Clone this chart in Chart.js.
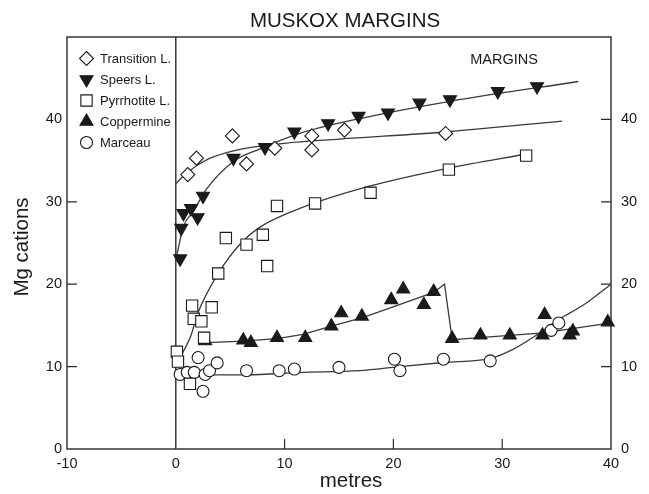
<!DOCTYPE html>
<html>
<head>
<meta charset="utf-8">
<title>MUSKOX MARGINS</title>
<script src="https://cdn.jsdelivr.net/npm/chart.js@4/dist/chart.umd.min.js"></script>
<style>
  html, body { margin: 0; padding: 0; background: #fff; }
  #wrap { width: 649px; height: 494px; }
</style>
</head>
<body>
<div id="wrap"><canvas id="c" width="649" height="494"></canvas></div>
<script>
// Observed Mg cation values against distance from the contact (metres)
const transitionL = [[1.1,33.3],[1.9,35.3],[5.2,38.0],[6.5,34.6],[9.1,36.5],[12.5,38.0],[12.5,36.3],[15.5,38.7],[24.8,38.3]];
const speersL = [[0.4,23.1],[0.5,26.8],[0.7,28.6],[1.4,29.2],[2.0,28.1],[2.5,30.7],[5.3,35.3],[8.2,36.6],[10.9,38.5],[14.0,39.5],[16.8,40.4],[19.5,40.8],[22.4,42.0],[25.2,42.4],[29.6,43.4],[33.2,44.0]];
const pyrrhotiteL = [[0.1,11.8],[0.2,10.6],[1.3,7.9],[1.5,17.4],[1.65,15.8],[2.35,15.5],[2.6,13.5],[3.3,17.2],[3.9,21.3],[4.6,25.6],[6.5,24.8],[8.0,26.0],[8.4,22.2],[9.3,29.5],[12.8,29.8],[17.9,31.1],[25.1,33.9],[32.2,35.6]];
const coppermine = [[2.7,13.1],[6.2,13.2],[6.9,12.9],[9.3,13.5],[11.9,13.5],[14.3,14.9],[15.2,16.5],[17.1,16.1],[19.8,18.1],[20.9,19.4],[22.8,17.5],[23.7,19.1],[25.4,13.4],[28.0,13.8],[30.7,13.8],[33.7,13.8],[33.9,16.3],[36.2,13.8],[36.5,14.3],[39.7,15.4]];
const marceau = [[0.4,9.05],[1.05,9.3],[1.7,9.3],[2.05,11.1],[2.5,7.0],[2.7,9.05],[3.1,9.5],[3.8,10.45],[6.5,9.5],[9.5,9.5],[10.9,9.7],[15.0,9.9],[20.1,10.9],[20.6,9.5],[24.6,10.9],[28.9,10.7],[34.5,14.4],[35.2,15.3]];

// Hand-fitted trend curves
const transitionCurve = [[0,32.2],[1,33.5],[3,35.2],[6,36.4],[10,37.1],[15,37.6],[25,38.5],[35.5,39.8]];
const speersCurve = [[0,22.9],[0.7,27.0],[1.6,28.8],[2.8,31.5],[5.3,34.9],[7.7,36.4],[11.4,38.3],[18,40.4],[25.2,42.2],[37,44.6]];
const pyrrhotiteCurve = [[0.2,10.6],[1.4,13.8],[2.0,16.4],[3.9,21.3],[6.0,25.0],[7.7,26.9],[11.4,29.2],[17.8,31.9],[25.1,34.1],[32.2,35.8]];
const coppermineCurve = [[2.8,12.9],[6.2,13.1],[9.3,13.4],[11.7,13.9],[14.3,14.9],[17.1,15.9],[20.3,17.4],[23.7,19.0],[24.7,20.0],[25.4,13.3],[25.8,13.3],[30.7,13.8],[33.8,14.1],[40,15.3]];
const marceauCurve = [[0,9.4],[2,9.0],[6.5,9.0],[11.4,9.3],[16.9,9.5],[20.6,10.0],[24.6,10.5],[28.9,11.0],[31,12.1],[32.9,13.6],[35.3,15.8],[37.5,17.5],[40,20.0]];

// Contact line at 0 m
const contactLine = [[0,0],[0,50]];

// Axis ticks
const xTickValues = [-10, 0, 10, 20, 30, 40];
const yTickValues = [0, 10, 20, 30, 40];
const xInnerTicks = [10, 20, 30];
const leftInnerTicks = [10, 20, 30];
const rightInnerTicks = [10, 20, 30, 40];

const INK = '#1a1a1a';
const LINE = '#3a3a3a';
const FONT = '"Liberation Sans", Arial, Helvetica, sans-serif';

const toXY = arr => arr.map(([x, y]) => ({ x, y }));

function pointSet(label, data, style, radius, filled, rotation) {
  return {
    type: 'scatter',
    label,
    data: toXY(data),
    pointStyle: style,
    pointRadius: radius,
    pointHoverRadius: radius,
    rotation: rotation || 0,
    pointBackgroundColor: filled ? INK : '#ffffff',
    pointBorderColor: INK,
    pointBorderWidth: 1.1,
    showLine: false,
    order: 1,
    clip: 10,
    isSeries: true
  };
}

function curveSet(data, tension) {
  return {
    type: 'line',
    data: toXY(data),
    borderColor: LINE,
    borderWidth: 1.3,
    pointRadius: 0,
    pointHoverRadius: 0,
    fill: false,
    cubicInterpolationMode: tension ? 'monotone' : 'default',
    tension: 0,
    order: 2,
    clip: 4
  };
}

const datasets = [
  pointSet('Transition L.', transitionL, 'rectRot', 7, false),
  pointSet('Speers L.', speersL, 'triangle', 7.5, true, 180),
  pointSet('Pyrrhotite L.', pyrrhotiteL, 'rect', 8, false),
  pointSet('Coppermine', coppermine, 'triangle', 7.5, true),
  pointSet('Marceau', marceau, 'circle', 6, false),
  curveSet(transitionCurve, true),
  curveSet(speersCurve, true),
  curveSet(pyrrhotiteCurve, true),
  curveSet(coppermineCurve, false),
  curveSet(marceauCurve, true),
  Object.assign(curveSet(contactLine, false), { borderColor: '#2a2a2a', borderWidth: 1.4 })
];

// Marker glyphs for the key
function drawMarker(ctx, style, x, y, r, filled, rotation) {
  ctx.save();
  ctx.beginPath();
  if (style === 'circle') {
    ctx.arc(x, y, r, 0, Math.PI * 2);
  } else if (style === 'rect') {
    const s = r * Math.SQRT1_2;
    ctx.rect(x - s, y - s, 2 * s, 2 * s);
  } else if (style === 'rectRot') {
    ctx.moveTo(x, y - r); ctx.lineTo(x + r, y); ctx.lineTo(x, y + r); ctx.lineTo(x - r, y); ctx.closePath();
  } else if (style === 'triangle') {
    const d = rotation === 180 ? -1 : 1;
    const h = r * Math.sqrt(3) / 2;
    ctx.moveTo(x, y - d * r);
    ctx.lineTo(x + h, y + d * r / 2);
    ctx.lineTo(x - h, y + d * r / 2);
    ctx.closePath();
  }
  ctx.fillStyle = filled ? INK : '#ffffff';
  ctx.fill();
  ctx.lineWidth = 1.1;
  ctx.strokeStyle = INK;
  ctx.stroke();
  ctx.restore();
}

const decorations = {
  id: 'decorations',
  beforeDatasetsDraw(chart) {
    const { ctx, chartArea: a, scales } = chart;
    ctx.save();
    ctx.strokeStyle = '#2a2a2a';
    ctx.lineWidth = 1.4;
    ctx.strokeRect(a.left, a.top, a.right - a.left, a.bottom - a.top);
    const tick = 10;
    ctx.lineWidth = 1.2;
    ctx.beginPath();
    xInnerTicks.forEach(v => {
      const px = scales.x.getPixelForValue(v);
      ctx.moveTo(px, a.bottom); ctx.lineTo(px, a.bottom - tick);
    });
    leftInnerTicks.forEach(v => {
      const py = scales.y.getPixelForValue(v);
      ctx.moveTo(a.left, py); ctx.lineTo(a.left + tick, py);
    });
    rightInnerTicks.forEach(v => {
      const py = scales.y2.getPixelForValue(v);
      ctx.moveTo(a.right, py); ctx.lineTo(a.right - tick, py);
    });
    ctx.stroke();
    ctx.restore();
  },
  afterDraw(chart) {
    const { ctx, chartArea: a } = chart;
    ctx.save();
    ctx.fillStyle = INK;
    ctx.textBaseline = 'middle';
    ctx.textAlign = 'center';

    ctx.font = '20.5px ' + FONT;
    ctx.fillText('MUSKOX MARGINS', 345, 21);

    ctx.font = '20.5px ' + FONT;
    ctx.fillText('metres', 351, 481);

    ctx.save();
    ctx.translate(22, 247);
    ctx.rotate(-Math.PI / 2);
    ctx.fillText('Mg cations', 0, 0);
    ctx.restore();

    ctx.font = '14.5px ' + FONT;
    ctx.fillText('MARGINS', 504, 60);

    // key
    ctx.textAlign = 'left';
    ctx.font = '13px ' + FONT;
    let ky = 58.5;
    chart.data.datasets.forEach(ds => {
      if (!ds.isSeries) return;
      drawMarker(ctx, ds.pointStyle, 86.5, ky, ds.pointRadius, ds.pointBackgroundColor === INK, ds.rotation);
      ctx.fillStyle = INK;
      ctx.fillText(ds.label, 100, ky + 0.5);
      ky += 21;
    });
    ctx.restore();
  }
};

const tickFont = { family: FONT, size: 14.5 };

new Chart(document.getElementById('c'), {
  data: { datasets },
  options: {
    responsive: false,
    animation: false,
    events: [],
    layout: { padding: { top: 37, left: 0, right: 0, bottom: 0 } },
    plugins: {
      legend: { display: false },
      title: { display: false },
      tooltip: { enabled: false }
    },
    scales: {
      x: {
        type: 'linear',
        min: -10, max: 40,
        afterBuildTicks: s => { s.ticks = xTickValues.map(v => ({ value: v })); },
        ticks: { font: tickFont, color: INK, padding: 6, maxRotation: 0 },
        grid: { display: false, drawTicks: false },
        border: { display: false },
        afterFit: s => { s.height = 45; }
      },
      y: {
        type: 'linear',
        position: 'left',
        min: 0, max: 50,
        afterBuildTicks: s => { s.ticks = yTickValues.map(v => ({ value: v })); },
        ticks: { font: tickFont, color: INK, padding: 5 },
        grid: { display: false, drawTicks: false },
        border: { display: false },
        afterFit: s => { s.width = 67; }
      },
      y2: {
        type: 'linear',
        position: 'right',
        min: 0, max: 50,
        afterBuildTicks: s => { s.ticks = yTickValues.map(v => ({ value: v })); },
        ticks: { font: tickFont, color: INK, padding: 10 },
        grid: { display: false, drawTicks: false },
        border: { display: false },
        afterFit: s => { s.width = 38; }
      }
    }
  },
  plugins: [decorations]
});
</script>
</body>
</html>
